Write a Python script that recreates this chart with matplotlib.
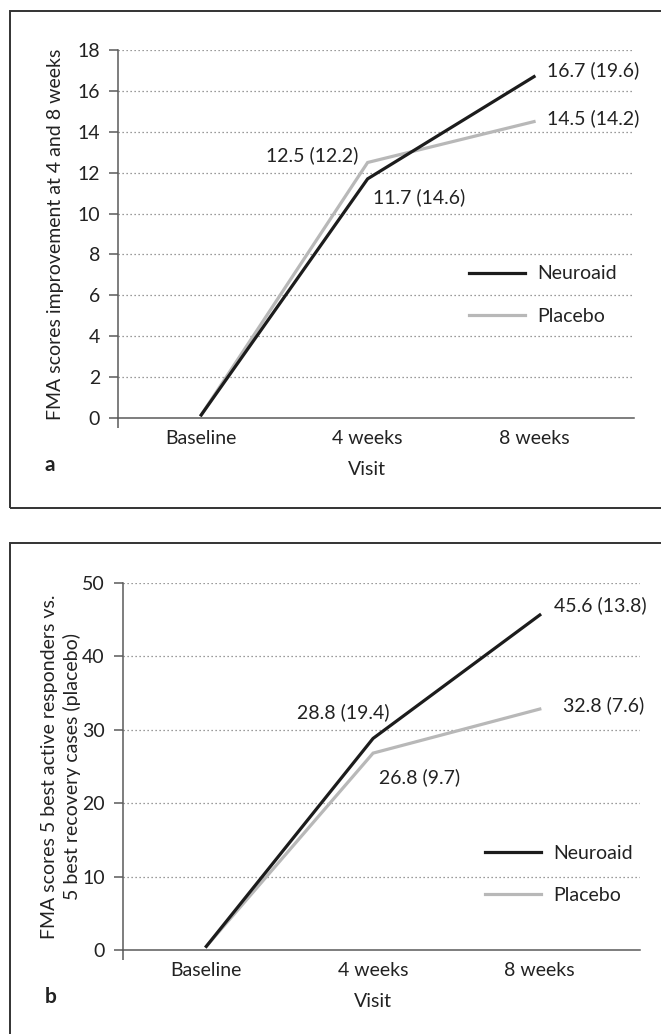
import matplotlib
matplotlib.use('Agg')
import matplotlib.pyplot as plt
import matplotlib.patches as patches

# ─── Data ────────────────────────────────────────────────────────────────────
visits = ['Baseline', '4 weeks', '8 weeks']

neuro_a   = [0.15, 11.7, 16.7]
placebo_a = [0.15, 12.5, 14.5]
neuro_a_sd   = [None, 14.6, 19.6]
placebo_a_sd = [None, 12.2, 14.2]

neuro_b   = [0.5, 28.8, 45.6]
placebo_b = [0.5, 26.8, 32.8]
neuro_b_sd   = [None, 19.4, 13.8]
placebo_b_sd = [None, 9.7, 7.6]

ylabel_a = 'FMA scores improvement at 4 and 8 weeks'
ylabel_b = 'FMA scores 5 best active responders vs.\n5 best recovery cases (placebo)'

# ─── Style ───────────────────────────────────────────────────────────────────
DARK   = '#1c1c1c'
LIGHT  = '#b8b8b8'
AXIS   = '#5a5a5a'
GRID   = '#7a7a7a'
TEXT   = '#222222'
FS     = 14

plt.rcParams['font.family'] = ['Lato', 'DejaVu Sans']
plt.rcParams['text.color'] = TEXT

fig = plt.figure(figsize=(6.61, 10.34), dpi=100, facecolor='white')

# panel frames
for (y0, y1) in [(0.5087, 0.9894), (-0.02, 0.4749)]:
    fig.add_artist(patches.Rectangle((0.0151, y0), 1.1, y1 - y0,
                                     transform=fig.transFigure, fill=False,
                                     edgecolor='#333333', lw=1.4))


def panel(rect, neuro, placebo, nsd, psd, ymax, ystep, ylabel, ylab_x,
          leg_xy, lab_offsets, letter, letter_y):
    ax = fig.add_axes(rect)
    xs = range(len(visits))
    ax.plot(xs, neuro, color=DARK, lw=2.3, label='Neuroaid', zorder=4,
            solid_joinstyle='miter')
    ax.plot(xs, placebo, color=LIGHT, lw=2.3, label='Placebo', zorder=3,
            solid_joinstyle='miter')

    ax.set_xlim(-0.5, 2.6)
    ax.set_ylim(0, ymax)
    ax.set_yticks(range(0, ymax + 1, ystep))
    ax.set_xticks(list(xs))
    ax.set_xticklabels(visits)
    ax.set_xticks([-0.5], minor=True)
    ax.tick_params(axis='x', which='major', length=0, pad=8.5, labelsize=FS,
                   colors=TEXT)
    ax.tick_params(axis='x', which='minor', length=7, width=1.1, color=AXIS)
    ax.tick_params(axis='y', length=6.5, width=1.1, color=AXIS, pad=6.5,
                   labelsize=FS, labelcolor=TEXT)

    for y in range(ystep, ymax + 1, ystep):
        ax.axhline(y, color=GRID, lw=0.9, ls=(0, (1, 2.2)), zorder=1)

    for s in ['top', 'right']:
        ax.spines[s].set_visible(False)
    for s in ['left', 'bottom']:
        ax.spines[s].set_color(AXIS)
        ax.spines[s].set_linewidth(1.1)

    # data labels
    series = [(neuro, nsd), (placebo, psd)]
    for (si, i), (dx, dy, ha) in lab_offsets.items():
        vals, sds = series[si]
        ax.annotate(f'{vals[i]:.1f} ({sds[i]:.1f})', xy=(i, vals[i]),
                    xytext=(dx, dy), textcoords='offset points',
                    ha=ha, va='center', fontsize=FS, color=TEXT)

    ax.text(ylab_x, 0.5, ylabel, transform=ax.transAxes, rotation=90,
            ha='center', va='center', fontsize=FS, multialignment='center',
            linespacing=1.3)
    ax.text(0.483, -0.141, 'Visit', transform=ax.transAxes, ha='center',
            va='center', fontsize=FS)
    fig.text(0.076, letter_y, letter, ha='center', va='center',
             fontsize=FS + 1, fontweight='bold')

    ax.legend(loc='center left', bbox_to_anchor=leg_xy, frameon=False,
              fontsize=FS, handlelength=2.9, handletextpad=0.6,
              labelspacing=1.3, borderpad=0, borderaxespad=0)
    return ax


panel([0.1785, 0.5957, 0.7805, 0.3559], neuro_a, placebo_a,
      neuro_a_sd, placebo_a_sd, 18, 2, ylabel_a, -0.122,
      (0.680, 0.334),
      {(0, 2): (9, 4.5, 'left'), (1, 2): (9, 2.5, 'left'),
       (1, 1): (-7, 5.5, 'right'), (0, 1): (4, -13, 'left')},
      'a', 0.5503)

panel([0.186, 0.0812, 0.782, 0.3553], neuro_b, placebo_b,
      neuro_b_sd, placebo_b_sd, 50, 10, ylabel_b, -0.12,
      (0.700, 0.2056),
      {(0, 2): (10, 7, 'left'), (1, 2): (17, 3, 'left'),
       (0, 1): (12, 19, 'right'), (1, 1): (4, -17, 'left')},
      'b', 0.0358)

plt.savefig('out.png', dpi=100, facecolor='white')
